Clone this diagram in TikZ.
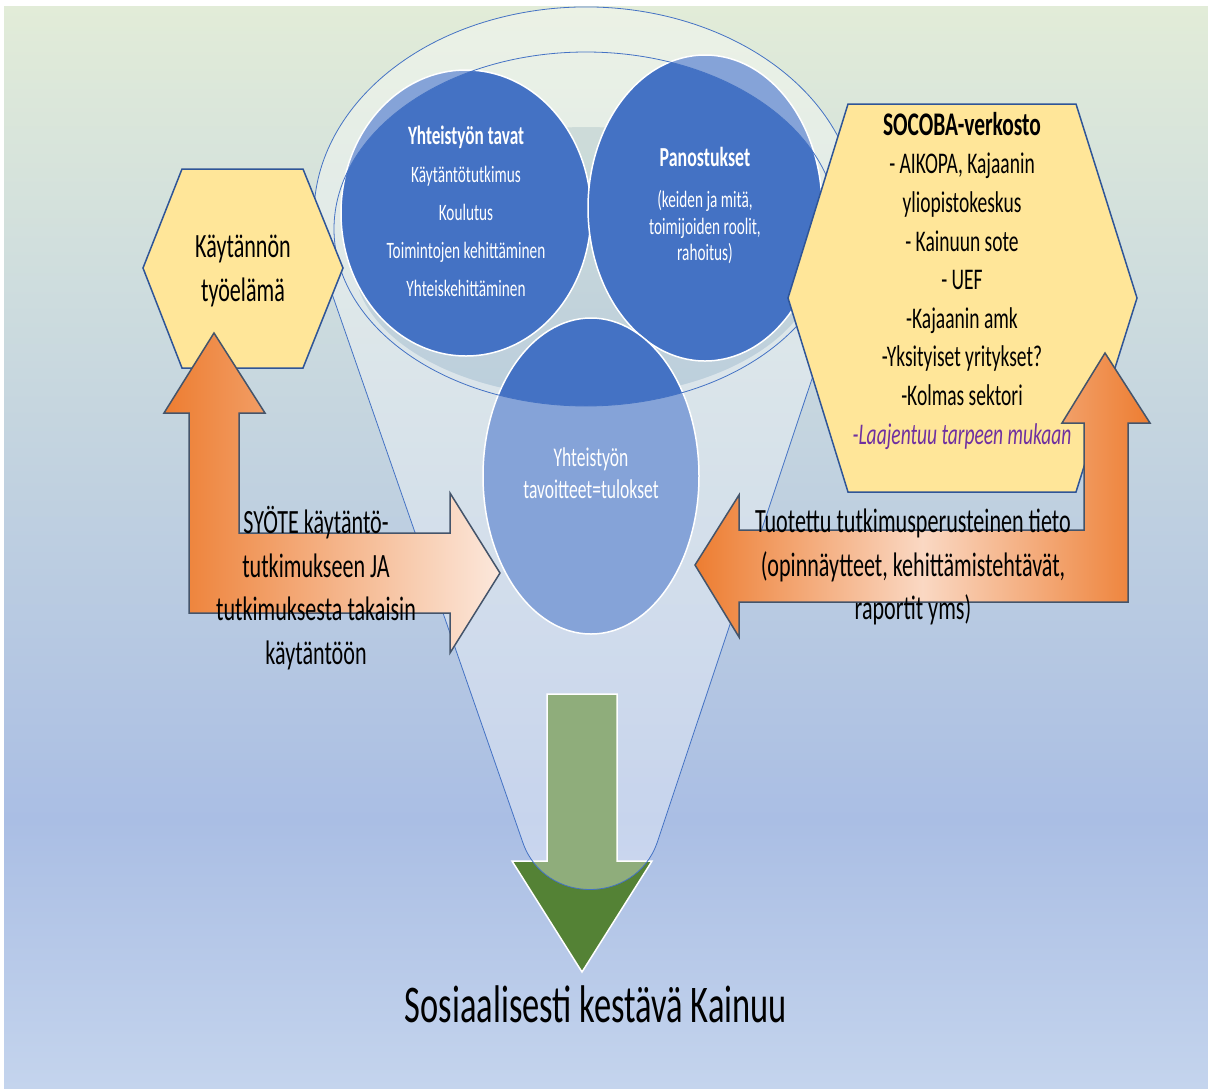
\documentclass[tikz,border=0pt]{standalone}
\usepackage{fontspec}
\setmainfont{Carlito}[FakeStretch=0.65]
\usetikzlibrary{positioning,shapes.geometric}
\definecolor{bgA}{RGB}{226,236,216}
\definecolor{bgB}{RGB}{205,220,222}
\definecolor{bgC}{RGB}{170,190,228}
\definecolor{bgD}{RGB}{196,212,237}
\definecolor{accblue}{RGB}{68,114,196}
\definecolor{hexfill}{RGB}{255,230,153}
\definecolor{hexline}{RGB}{47,85,151}
\definecolor{orangeA}{RGB}{237,125,49}
\definecolor{orangeB}{RGB}{252,232,220}
\definecolor{orangeC}{RGB}{250,216,195}
\definecolor{arrline}{RGB}{68,84,106}
\definecolor{greenA}{RGB}{84,130,53}
\definecolor{purpleA}{RGB}{112,48,160}
\pgfdeclareverticalshading{bgshade}{100bp}{color(0bp)=(bgD); color(25bp)=(bgD); color(37.4bp)=(bgC); color(61.4bp)=(bgB); color(75bp)=(bgA); color(100bp)=(bgA)}

\begin{document}
\begin{tikzpicture}
	[x=1pt,y=-1pt,
	hexa/.style={fill=hexfill,draw=hexline,line width=1.5},
	disc/.style={ellipse,fill=accblue,draw=white,line width=1.5,inner sep=0,text=white,align=center},
	bigarrow/.style={draw=arrline,line width=1.5},
	funnelline/.style={draw=accblue,line width=0.8},
	txt/.style={align=center,inner sep=0,execute at begin node=\strut,execute at end node=\strut}]
	\useasboundingbox (0,0) rectangle (1208,1088);
	\fill[white] (0,0) rectangle (1208,1088);
	\shade[shading=bgshade] (4,6) rectangle (1208,1088);
	\path[fill=white,fill opacity=.35,even odd rule] (586,229) ellipse [x radius=252,y radius=177] (586,262) ellipse [x radius=232,y radius=135];
	\fill[accblue,fill opacity=.08] (586,262) ellipse [x radius=232,y radius=135];
	\node[disc,minimum width=250,minimum height=286,font=\fontsize{23.5}{38}\selectfont] (tavat) at (466,213)
		{\strut{\bfseries\fontsize{26.5}{38}\selectfont Yhteistyön tavat}\\Käytäntötutkimus\\Koulutus\\Toimintojen kehittäminen\\Yhteiskehittäminen\strut};
	\node[disc,minimum width=234,minimum height=306,font=\fontsize{23.5}{26.5}\selectfont] (panostukset) at (705,208)
		{\strut{\bfseries\fontsize{27.5}{26.5}\selectfont Panostukset}\\[15pt](keiden ja mitä,\\toimijoiden roolit,\\rahoitus)\strut};
	\node[disc,minimum width=216,minimum height=316,font=\fontsize{27}{32}\selectfont] (tavoitteet) at (591,476)
		{\strut Yhteistyön\\tavoitteet=tulokset\strut};
	\path[fill=greenA,draw=white,line width=1.5] (547,694) -- (617,694) -- (617,861) -- (652,861) -- (582,972) -- (512,861) -- (547,861) -- cycle;
	\path[fill=white,fill opacity=.35,even odd rule] (323.8,270.2) arc[start angle=164.6,end angle=375.4,x radius=272,y radius=208] -- (657,843) .. controls (635,905) and (545,905) .. (523,843) -- cycle (586,229) ellipse [x radius=252,y radius=177];
	\draw[funnelline] (323.8,270.2) arc[start angle=164.6,end angle=375.4,x radius=272,y radius=208] -- (657,843) .. controls (635,905) and (545,905) .. (523,843) -- cycle;
	\draw[funnelline] (586,229) ellipse [x radius=252,y radius=177];
	\draw[hexa] (143,268) -- (182,169) -- (303,169) -- (343,268) -- (303,368) -- (182,368) -- cycle;
	\node[txt,font=\fontsize{34}{44}\selectfont] (tyoelama) at (243,275) {Käytännön\\työelämä};
	\draw[hexa] (788,298) -- (848,104) -- (1076,104) -- (1137,298) -- (1076,492) -- (848,492) -- cycle;
	\node[txt,font=\fontsize{30}{38.6}\selectfont] (socoba) at (962,284)
		{{\bfseries\fontsize{33}{38.6}\selectfont SOCOBA-verkosto}\\- AIKOPA, Kajaanin\\yliopistokeskus\\- Kainuun sote\\- UEF\\-Kajaanin amk\\-Yksityiset yritykset?\\-Kolmas sektori\\{\color{purpleA}\itshape -Laajentuu tarpeen mukaan}};
	\shade[bigarrow,left color=orangeA,right color=orangeB] (214,333) -- (265,413) -- (239,413) -- (239,533) -- (450,533) -- (450,493) -- (500,573) -- (450,653) -- (450,613) -- (189,613) -- (189,413) -- (164,413) -- cycle;
	\node[txt,font=\fontsize{34}{43.5}\selectfont] (syote) at (316,592) {SYÖTE käytäntö-\\tutkimukseen JA\\tutkimuksesta takaisin\\käytäntöön};
	\shade[bigarrow,left color=orangeA,right color=orangeA,middle color=orangeC] (1105,353) -- (1150,423) -- (1128,423) -- (1128,602) -- (739,602) -- (739,637) -- (695,565) -- (739,495) -- (739,530) -- (1084,530) -- (1084,423) -- (1062,423) -- cycle;
	\node[txt,font=\fontsize{34}{43.5}\selectfont] (tuotettu) at (913,571) {Tuotettu tutkimusperusteinen tieto\\(opinnäytteet, kehittämistehtävät,\\raportit yms)};
	\node[txt,font=\fontsize{53}{64}\selectfont] (kainuu) at (596,1010) {Sosiaalisesti kestävä Kainuu};
\end{tikzpicture}
\end{document}
